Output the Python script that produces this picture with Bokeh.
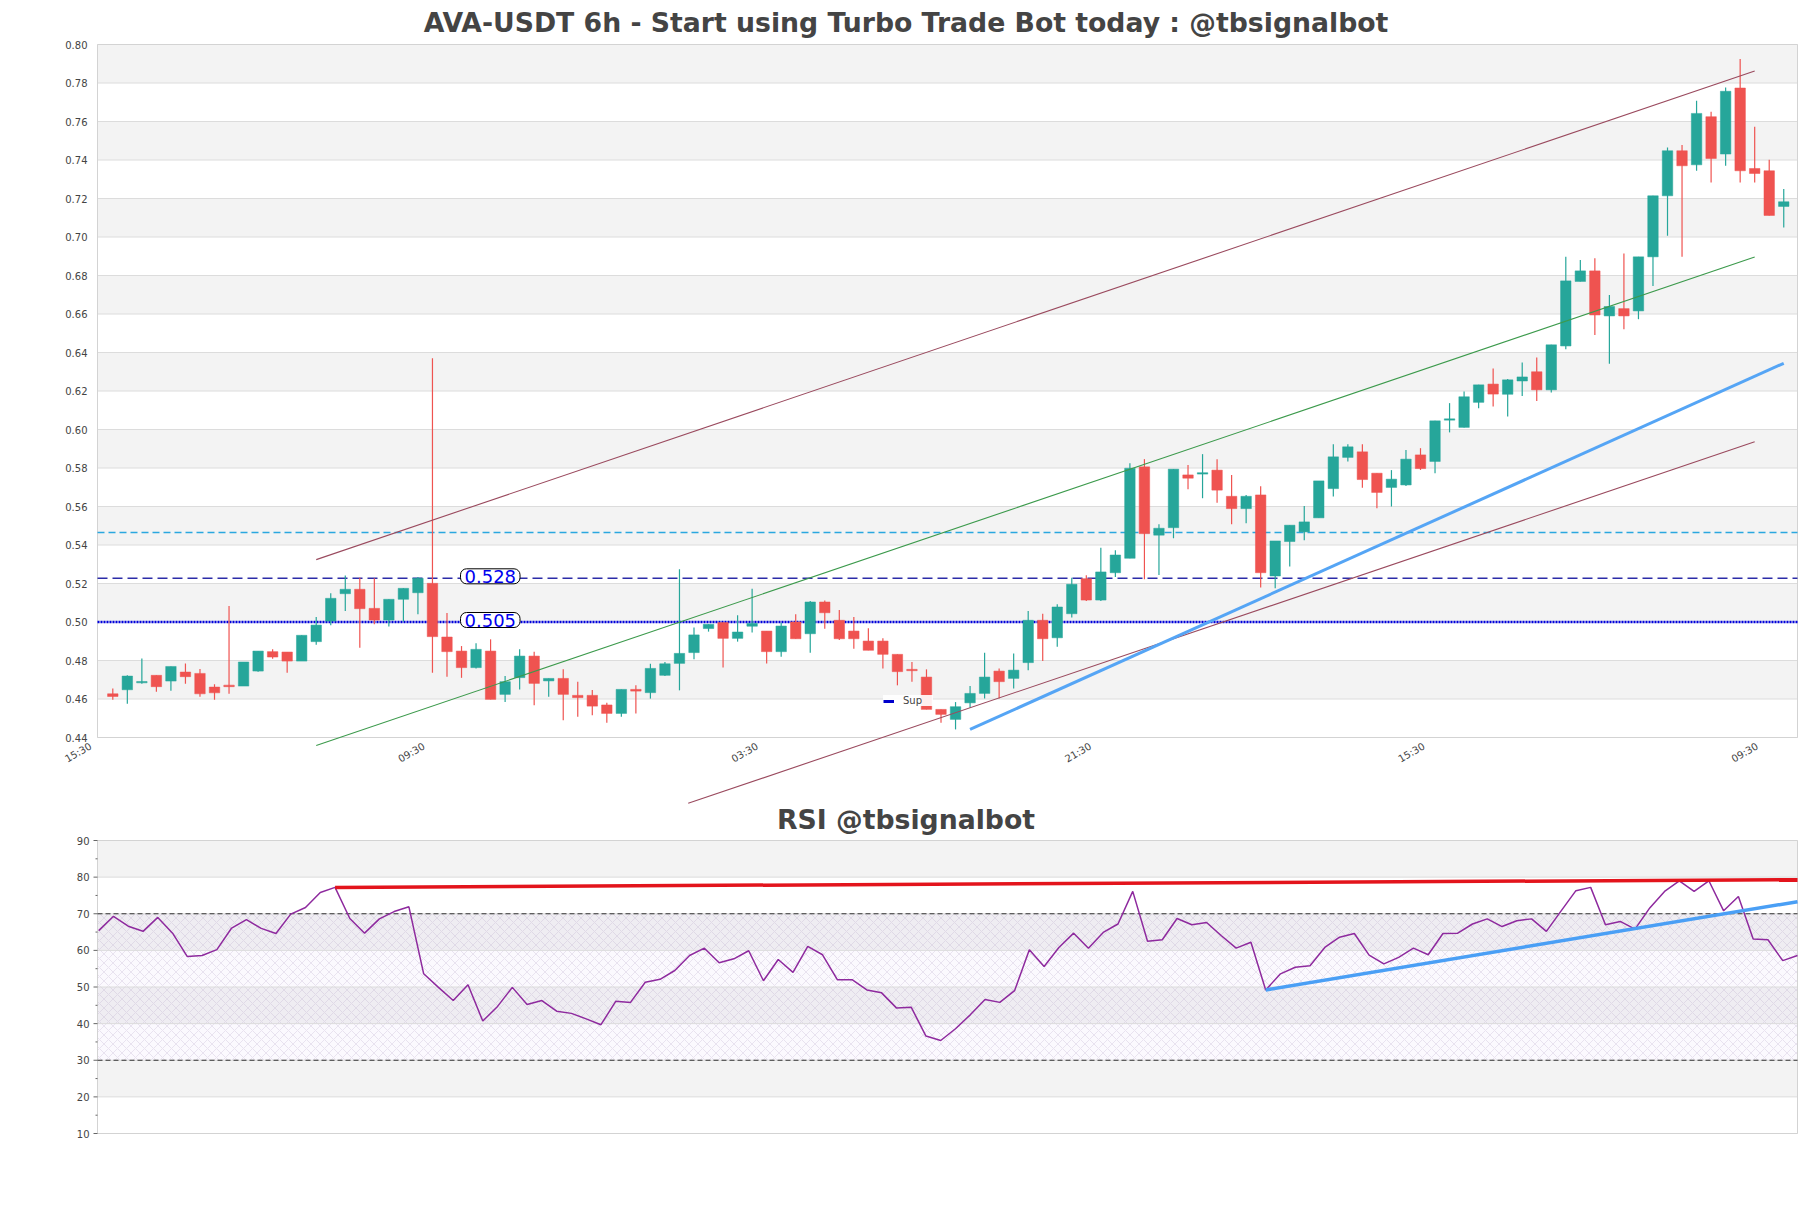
import numpy as np
from bokeh.plotting import figure
from bokeh.models import Range1d, Label, Legend, LegendItem, ColumnDataSource
from bokeh.layouts import column
from bokeh.embed import file_html
from bokeh.resources import INLINE
from bokeh.core.properties import value

# ---------------- data ----------------
opens = [0.4627, 0.4648, 0.4686, 0.4723, 0.4693, 0.4740, 0.4733, 0.4662, 0.4672, 0.4667,
         0.4745, 0.4846, 0.4844, 0.4797, 0.4898, 0.5005, 0.5147, 0.5170, 0.5071, 0.5010,
         0.5118, 0.5152, 0.5201, 0.4922, 0.4849, 0.4763, 0.4849, 0.4624, 0.4711, 0.4823,
         0.4694, 0.4707, 0.4619, 0.4619, 0.4569, 0.4525, 0.4650, 0.4633, 0.4723, 0.4785,
         0.4841, 0.4966, 0.4997, 0.4915, 0.4978, 0.4953, 0.4846, 0.5000, 0.4939, 0.5104,
         0.5009, 0.4953, 0.4901, 0.4901, 0.4832, 0.4752, 0.4714, 0.4546, 0.4494, 0.4580,
         0.4629, 0.4745, 0.4707, 0.4789, 0.5009, 0.4918, 0.5043, 0.5225, 0.5114, 0.5256,
         0.5331, 0.5806, 0.5451, 0.5490, 0.5764, 0.5771, 0.5789, 0.5653, 0.5589, 0.5660,
         0.5239, 0.5418, 0.5468, 0.5541, 0.5693, 0.5855, 0.5884, 0.5773, 0.5699, 0.5712,
         0.5868, 0.5834, 0.6050, 0.6011, 0.6141, 0.6236, 0.6183, 0.6252, 0.6300, 0.6206,
         0.6434, 0.6769, 0.6824, 0.6590, 0.6628, 0.6616, 0.6897, 0.7214, 0.7448, 0.7375,
         0.7625, 0.7431, 0.7774, 0.7356, 0.7344, 0.7159]
highs = [0.4655, 0.4723, 0.4811, 0.4723, 0.4769, 0.4785, 0.4756, 0.4676, 0.5083, 0.4792,
         0.4849, 0.4858, 0.4844, 0.4931, 0.5026, 0.5149, 0.5242, 0.5230, 0.5227, 0.5118,
         0.5175, 0.5234, 0.6370, 0.5047, 0.4875, 0.4889, 0.4910, 0.4719, 0.4858, 0.4846,
         0.4707, 0.4754, 0.4690, 0.4647, 0.4581, 0.4650, 0.4671, 0.4783, 0.4792, 0.5274,
         0.4971, 0.4988, 0.4997, 0.5035, 0.5173, 0.4953, 0.4996, 0.5040, 0.5109, 0.5112,
         0.5062, 0.5026, 0.4967, 0.4915, 0.4832, 0.4792, 0.4754, 0.4546, 0.4584, 0.4667,
         0.4840, 0.4759, 0.4837, 0.5057, 0.5043, 0.5092, 0.5230, 0.5243, 0.5386, 0.5373,
         0.5825, 0.5846, 0.5508, 0.5794, 0.5816, 0.5872, 0.5846, 0.5764, 0.5660, 0.5705,
         0.5421, 0.5503, 0.5603, 0.5733, 0.5924, 0.5924, 0.5924, 0.5773, 0.5789, 0.5893,
         0.5903, 0.6045, 0.6137, 0.6198, 0.6232, 0.6317, 0.6262, 0.6348, 0.6374, 0.6440,
         0.6897, 0.6881, 0.6890, 0.6699, 0.6914, 0.6897, 0.7214, 0.7465, 0.7478, 0.7708,
         0.7651, 0.7777, 0.7925, 0.7573, 0.7401, 0.7249]
lows = [0.4596, 0.4575, 0.4679, 0.4638, 0.4643, 0.4679, 0.4612, 0.4596, 0.4627, 0.4667,
        0.4742, 0.4809, 0.4736, 0.4797, 0.4882, 0.4983, 0.5057, 0.4866, 0.4988, 0.4976,
        0.5002, 0.5040, 0.4736, 0.4716, 0.4710, 0.4758, 0.4598, 0.4584, 0.4650, 0.4567,
        0.4612, 0.4489, 0.4508, 0.4515, 0.4477, 0.4508, 0.4525, 0.4602, 0.4719, 0.4645,
        0.4806, 0.4950, 0.4763, 0.4898, 0.4945, 0.4784, 0.4820, 0.4913, 0.4840, 0.4965,
        0.4906, 0.4861, 0.4853, 0.4759, 0.4671, 0.4690, 0.4546, 0.4477, 0.4442, 0.4555,
        0.4603, 0.4603, 0.4655, 0.4749, 0.4797, 0.4872, 0.5023, 0.5109, 0.5109, 0.5234,
        0.5331, 0.5222, 0.5244, 0.5435, 0.5690, 0.5643, 0.5620, 0.5508, 0.5513, 0.5179,
        0.5175, 0.5288, 0.5425, 0.5541, 0.5652, 0.5834, 0.5698, 0.5591, 0.5600, 0.5707,
        0.5790, 0.5773, 0.5985, 0.6011, 0.6111, 0.6120, 0.6067, 0.6174, 0.6148, 0.6192,
        0.6417, 0.6769, 0.6491, 0.6342, 0.6521, 0.6573, 0.6746, 0.7006, 0.6897, 0.7344,
        0.7283, 0.7370, 0.7283, 0.7283, 0.7112, 0.7050]
closes = [0.4613, 0.4719, 0.4689, 0.4664, 0.4769, 0.4716, 0.4627, 0.4632, 0.4664, 0.4792,
          0.4849, 0.4818, 0.4797, 0.4931, 0.4984, 0.5123, 0.5170, 0.5069, 0.5010, 0.5118,
          0.5175, 0.5227, 0.4924, 0.4846, 0.4763, 0.4858, 0.4598, 0.4690, 0.4823, 0.4681,
          0.4707, 0.4624, 0.4607, 0.4563, 0.4525, 0.4650, 0.4641, 0.4759, 0.4783, 0.4837,
          0.4933, 0.4988, 0.4915, 0.4948, 0.4993, 0.4846, 0.4979, 0.4913, 0.5104, 0.5048,
          0.4913, 0.4913, 0.4853, 0.4832, 0.4742, 0.4749, 0.4546, 0.4520, 0.4560, 0.4629,
          0.4714, 0.4690, 0.4750, 0.5009, 0.4913, 0.5078, 0.5196, 0.5114, 0.5260, 0.5348,
          0.5799, 0.5459, 0.5487, 0.5794, 0.5747, 0.5773, 0.5685, 0.5589, 0.5653, 0.5256,
          0.5421, 0.5503, 0.5520, 0.5733, 0.5858, 0.5910, 0.5740, 0.5673, 0.5742, 0.5846,
          0.5797, 0.6045, 0.6054, 0.6170, 0.6232, 0.6184, 0.6258, 0.6273, 0.6206, 0.6440,
          0.6772, 0.6824, 0.6595, 0.6639, 0.6590, 0.6897, 0.7214, 0.7448, 0.7370, 0.7642,
          0.7408, 0.7757, 0.7344, 0.7330, 0.7112, 0.7183]

rsi = [65.4, 69.3, 66.6, 65.2, 69.0, 64.7, 58.3, 58.6, 60.2, 66.1,
       68.4, 66.0, 64.6, 69.9, 71.7, 75.8, 77.2, 68.7, 64.7, 68.6,
       70.6, 71.9, 53.6, 49.9, 46.3, 50.6, 40.7, 44.7, 49.9, 45.2,
       46.3, 43.4, 42.8, 41.3, 39.7, 46.1, 45.8, 51.3, 52.1, 54.5,
       58.6, 60.6, 56.6, 57.7, 59.9, 51.7, 57.5, 54.0, 61.1, 58.8,
       52.0, 52.0, 49.2, 48.4, 44.3, 44.5, 36.6, 35.4, 38.6, 42.4,
       46.6, 45.8, 49.0, 60.2, 55.6, 60.8, 64.7, 60.6, 64.9, 67.2,
       76.1, 62.5, 62.9, 68.7, 67.0, 67.6, 64.0, 60.6, 62.2, 49.2,
       53.6, 55.4, 55.8, 60.8, 63.6, 64.6, 58.7, 56.3, 58.1, 60.6,
       58.8, 64.6, 64.7, 67.2, 68.6, 66.5, 68.1, 68.6, 65.2, 70.8,
       76.3, 77.2, 67.0, 67.9, 65.8, 71.6, 76.1, 79.0, 76.1, 79.0,
       70.8, 74.7, 63.1, 62.9, 57.2, 58.6]

price_ticks = [0.44, 0.46, 0.48, 0.50, 0.52, 0.54, 0.56, 0.58, 0.60, 0.62,
               0.64, 0.66, 0.68, 0.70, 0.72, 0.74, 0.76, 0.78, 0.80]
tick_labels = ["15:30", "09:30", "03:30", "21:30", "15:30", "09:30"]
tick_idx = [-1.3, 21.64, 44.58, 67.52, 90.46, 113.4]

# channel / trend lines (candle index, price)
upper_x, upper_y = [14, 113], [0.5324, 0.7862]
mid_x, mid_y = [14, 113], [0.4358, 0.6896]
lower_x, lower_y = [39.6, 113], [0.4058, 0.5936]
trend_x, trend_y = [59, 115], [0.4442, 0.6344]

level_dashdot = 0.5465
level_res = 0.5227
level_sup = 0.500
label_res = "0.528"
label_sup = "0.505"

rsi_ticks = [10, 20, 30, 40, 50, 60, 70, 80, 90]
rsi_res_x, rsi_res_y = [16, 115], [77.2, 79.3]
rsi_sup_x, rsi_sup_y = [79, 115], [49.2, 73.3]

TITLE = "AVA-USDT 6h - Start using Turbo Trade Bot today : @tbsignalbot"
RSI_TITLE = "RSI @tbsignalbot"

GREEN = "#26a69a"
RED = "#ef5350"
FONT = "DejaVu Sans"
TXT = "#444444"
W = 1811

# ================= main chart =================
# The frame fills the whole figure; the price box is drawn inside it.
MH = 805
C_PX, C_X0 = 14.53, 112.3           # pixels per candle, pixel of first candle
P_PX, P_Y0 = 1925.0, 44.0           # pixels per price unit, pixel row of 0.80


def mx(px):
    return (px - C_X0) / C_PX


def my(py):
    return 0.80 - (py - P_Y0) / P_PX


XL, XR = mx(97), mx(1797)
y_lo, y_hi = 0.44, 0.80

p = figure(width=W, height=MH, output_backend="svg", toolbar_location=None,
           x_range=Range1d(mx(0), mx(W)), y_range=Range1d(my(MH), my(0)),
           min_border_left=0, min_border_right=0, min_border_top=0, min_border_bottom=0)
p.outline_line_color = None
p.axis.visible = False
p.grid.visible = False

band_bottoms = [round(y_hi - 0.02 - 0.04 * i, 2) for i in range(9)]
p.quad(left=XL, right=XR, bottom=band_bottoms, top=[b + 0.02 for b in band_bottoms],
       fill_color="#f3f3f3", line_color=None)
p.segment(x0=XL, x1=XR, y0=price_ticks, y1=price_ticks, line_color="#dcdcdc", line_width=1)
p.line([XL, XR, XR, XL, XL], [y_lo, y_lo, y_hi, y_hi, y_lo], line_color="#d3d3d3", line_width=1)

p.text(x=[mx(W / 2)], y=[my(22.3)], text=[TITLE], text_align="center",
       text_baseline="middle", text_font=value(FONT), text_font_size="26.7px",
       text_font_style="bold", text_color=TXT)

p.text(x=[XL] * len(price_ticks), y=price_ticks, text=[f"{v:.2f}" for v in price_ticks],
       text_align="right", text_baseline="middle", x_offset=-10,
       text_font=value(FONT), text_font_size="10px", text_color=TXT)

# horizontal levels
p.segment(x0=XL, x1=XR, y0=level_dashdot, y1=level_dashdot, line_color="#2aa7df",
          line_width=1.3, line_dash="7 4")
p.segment(x0=XL, x1=XR, y0=level_res, y1=level_res, line_color="#2c2ca8",
          line_width=1.5, line_dash="10 5")
p.segment(x0=XL, x1=XR, y0=level_sup, y1=level_sup, line_color="#0000dd",
          line_width=2.5, line_dash="2 1")

# candles
o = np.array(opens); c = np.array(closes); h = np.array(highs); l = np.array(lows)
idx = np.arange(len(o))
up = c >= o
for mask, col in ((up, GREEN), (~up, RED)):
    top = np.maximum(o[mask], c[mask])
    bot = np.minimum(o[mask], c[mask])
    small = (top - bot) < 0.0007
    mid = (top + bot) / 2
    top = np.where(small, mid + 0.00035, top)
    bot = np.where(small, mid - 0.00035, bot)
    src = ColumnDataSource(dict(x=idx[mask], top=top, bot=bot, hi=h[mask], lo=l[mask]))
    p.segment(x0="x", y0="hi", x1="x", y1="lo", source=src, line_color=col, line_width=1.2)
    p.vbar(x="x", width=0.72, top="top", bottom="bot", source=src,
           fill_color=col, line_color=col, line_width=0.5)

# channel lines
p.line(upper_x, upper_y, line_color="#9a4a5e", line_width=1.1)
p.line(lower_x, lower_y, line_color="#9a4a5e", line_width=1.1)
p.line(mid_x, mid_y, line_color="#3c9a4c", line_width=1.1)
p.line(trend_x, trend_y, line_color="#55a5f5", line_width=3)

# level labels
try:
    pad = dict(x=4, y=1)
    Label(text="t", padding=pad)
except Exception:
    pad = (1, 4)
for lv, txt in ((level_res, label_res), (level_sup, label_sup)):
    p.add_layout(Label(x=mx(460), y=lv, text=txt, text_font=FONT, text_font_size="18px",
                       text_color="#0000ee", text_baseline="middle", text_align="left",
                       y_offset=2, background_fill_color="white", background_fill_alpha=1,
                       border_line_color="black", border_line_width=1,
                       padding=pad, border_radius=6))

# x tick labels
for tx, tl in zip(tick_idx, tick_labels):
    p.add_layout(Label(x=tx, y=y_lo, text=tl, angle=np.pi / 6, text_align="right",
                       text_baseline="top", x_offset=-6, y_offset=-3, text_font=FONT,
                       text_font_size="10px", text_color=TXT))

# legend (its line sits outside the visible range; only the legend swatch shows)
sup_r = p.line(x=[mx(-400), mx(-390)], y=[0.6, 0.6], line_color="#0000cc", line_width=3)
leg = Legend(items=[LegendItem(label="Sup", renderers=[sup_r])], location=(883, MH - 706),
             label_text_font=FONT, label_text_font_size="10px", glyph_width=11,
             glyph_height=10, padding=5, margin=0, label_standoff=9, spacing=0,
             label_width=30, border_line_color=None, background_fill_alpha=0.9,
             label_height=8)
p.add_layout(leg)

# ================= RSI chart =================
RH = 1208 - MH
R_PX = (1797 - 98.2) / (len(rsi) - 1)    # pixels per RSI point
R_X0 = 98.2                             # pixel of first RSI point
R_UNIT = 293 / 80.0                     # pixels per RSI unit
R_Y0 = 840.0 - MH                       # pixel row of 90 inside this figure


def rx(px):
    return (px - R_X0) / R_PX


def ry(py):
    return 90 - (py - R_Y0) / R_UNIT


RL, RR = rx(97), rx(1797)
r = figure(width=W, height=RH, output_backend="svg", toolbar_location=None,
           x_range=Range1d(rx(0), rx(W)), y_range=Range1d(ry(RH), ry(0)),
           min_border_left=0, min_border_right=0, min_border_top=0, min_border_bottom=0)
r.outline_line_color = None
r.axis.visible = False
r.grid.visible = False

rb = [80, 60, 40, 20]
r.quad(left=RL, right=RR, bottom=rb, top=[b + 10 for b in rb], fill_color="#f3f3f3",
       line_color=None)
r.quad(left=RL, right=RR, bottom=30, top=70, fill_color="#9370db", fill_alpha=0.04,
       hatch_pattern="x", hatch_color="#b4a2c8", hatch_alpha=0.45, hatch_scale=9,
       hatch_weight=0.6, line_color=None)
r.segment(x0=RL, x1=RR, y0=rsi_ticks, y1=rsi_ticks, line_color="#dcdcdc", line_width=1)
r.line([RL, RR, RR, RL, RL], [10, 10, 90, 90, 10], line_color="#d3d3d3", line_width=1)

r.text(x=[rx(W / 2)], y=[ry(819.3 - MH)], text=[RSI_TITLE], text_align="center",
       text_baseline="middle", text_font=value(FONT), text_font_size="26.7px",
       text_font_style="bold", text_color=TXT)

# y axis ticks and labels
r.segment(x0=RL - 4 / R_PX, x1=RL, y0=rsi_ticks, y1=rsi_ticks, line_color="#666666", line_width=1)
minor = [t + 5 for t in rsi_ticks[:-1]]
r.segment(x0=RL - 2 / R_PX, x1=RL, y0=minor, y1=minor, line_color="#666666", line_width=1)
r.text(x=[RL] * len(rsi_ticks), y=rsi_ticks, text=[str(t) for t in rsi_ticks],
       text_align="right", text_baseline="middle", x_offset=-8,
       text_font=value(FONT), text_font_size="10px", text_color=TXT)

r.segment(x0=RL, x1=RR, y0=[70, 30], y1=[70, 30], line_color="#333333", line_width=1.2,
          line_dash="5 3")

r.line(list(range(len(rsi))), rsi, line_color="#8e2a9e", line_width=1.5)
r.line(rsi_res_x, rsi_res_y, line_color="#e3141c", line_width=3.5)
r.line(rsi_sup_x, rsi_sup_y, line_color="#4a9ff5", line_width=3.5)

layout = column(p, r, spacing=0)
open("out.html", "w").write(file_html(layout, INLINE))
